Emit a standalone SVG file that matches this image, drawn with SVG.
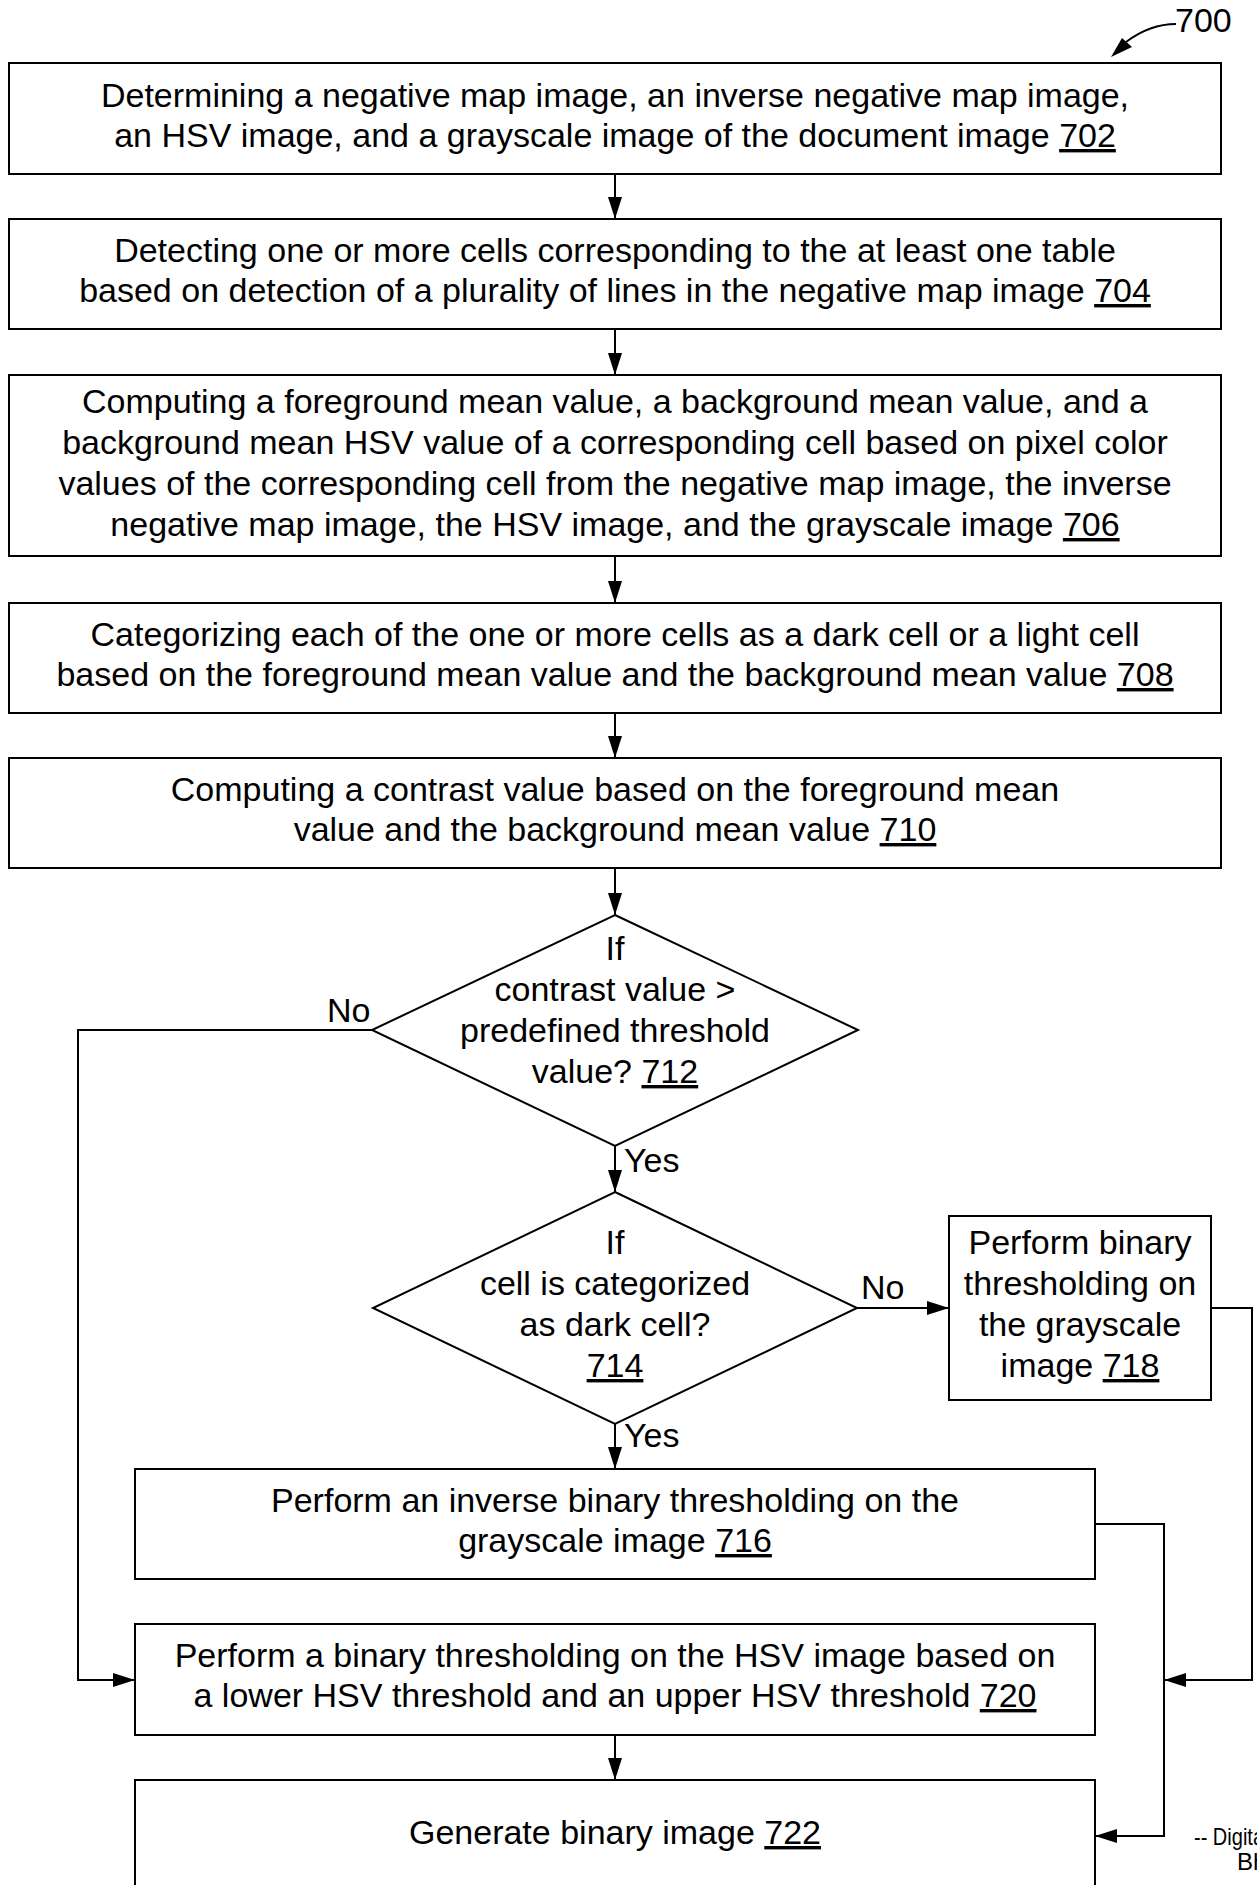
<svg xmlns="http://www.w3.org/2000/svg" width="1257" height="1885" viewBox="0 0 1257 1885">
<style>
text{font-family:"Liberation Sans",Arial,sans-serif;font-size:34px;fill:#000}
.c{text-anchor:middle}
.u{text-decoration:underline;text-underline-offset:5px}
.box{fill:#fff;stroke:#000;stroke-width:2}
.ln{fill:none;stroke:#000;stroke-width:2}
.wm{font-size:24px}
</style>
<defs>
<marker id="ah" markerUnits="userSpaceOnUse" markerWidth="24" markerHeight="14" refX="22" refY="7" orient="auto">
<path d="M0,0 L22,7 L0,14 z" fill="#000"/>
</marker>
</defs>
<g id="connectors">
<line class="ln" x1="615" y1="174" x2="615" y2="219" marker-end="url(#ah)"/>
<line class="ln" x1="615" y1="329" x2="615" y2="375" marker-end="url(#ah)"/>
<line class="ln" x1="615" y1="556" x2="615" y2="603" marker-end="url(#ah)"/>
<line class="ln" x1="615" y1="713" x2="615" y2="758" marker-end="url(#ah)"/>
<line class="ln" x1="615" y1="868" x2="615" y2="915" marker-end="url(#ah)"/>
<line class="ln" x1="615" y1="1146" x2="615" y2="1192" marker-end="url(#ah)"/>
<line class="ln" x1="615" y1="1424" x2="615" y2="1469" marker-end="url(#ah)"/>
<polyline class="ln" points="372,1030 78,1030 78,1680 135,1680" marker-end="url(#ah)"/>
<line class="ln" x1="857" y1="1308" x2="949" y2="1308" marker-end="url(#ah)"/>
<polyline class="ln" points="1211,1308 1252,1308 1252,1680 1164,1680" marker-end="url(#ah)"/>
<polyline class="ln" points="1095,1524 1164,1524 1164,1836 1095,1836" marker-end="url(#ah)"/>
<line class="ln" x1="615" y1="1735" x2="615" y2="1780" marker-end="url(#ah)"/>
<text x="327" y="1022">No</text>
<text x="861" y="1299">No</text>
<text x="624" y="1172">Yes</text>
<text x="624" y="1447">Yes</text>
</g>
<g id="ref700">
<text x="1175" y="32">700</text>
<path class="ln" d="M1176,24 C1160,24 1142,30 1126,42"/>
<polygon points="1111,57 1122,38 1132,47" fill="#000"/>
</g>
<g id="n702">
<rect class="box" x="9" y="63" width="1212" height="111"/>
<text class="c" x="615" y="107">Determining a negative map image, an inverse negative map image,</text>
<text class="c" x="615" y="147">an HSV image, and a grayscale image of the document image <tspan class="u">702</tspan></text>
</g>
<g id="n704">
<rect class="box" x="9" y="219" width="1212" height="110"/>
<text class="c" x="615" y="262">Detecting one or more cells corresponding to the at least one table</text>
<text class="c" x="615" y="302">based on detection of a plurality of lines in the negative map image <tspan class="u">704</tspan></text>
</g>
<g id="n706">
<rect class="box" x="9" y="375" width="1212" height="181"/>
<text class="c" x="615" y="413">Computing a foreground mean value, a background mean value, and a</text>
<text class="c" x="615" y="454">background mean HSV value of a corresponding cell based on pixel color</text>
<text class="c" x="615" y="495">values of the corresponding cell from the negative map image, the inverse</text>
<text class="c" x="615" y="536">negative map image, the HSV image, and the grayscale image <tspan class="u">706</tspan></text>
</g>
<g id="n708">
<rect class="box" x="9" y="603" width="1212" height="110"/>
<text class="c" x="615" y="646">Categorizing each of the one or more cells as a dark cell or a light cell</text>
<text class="c" x="615" y="686">based on the foreground mean value and the background mean value <tspan class="u">708</tspan></text>
</g>
<g id="n710">
<rect class="box" x="9" y="758" width="1212" height="110"/>
<text class="c" x="615" y="801">Computing a contrast value based on the foreground mean</text>
<text class="c" x="615" y="841">value and the background mean value <tspan class="u">710</tspan></text>
</g>
<g id="n712">
<polygon class="box" points="615,915 858,1030 615,1146 372,1030"/>
<text class="c" x="615" y="960">If</text>
<text class="c" x="615" y="1001">contrast value &gt;</text>
<text class="c" x="615" y="1042">predefined threshold</text>
<text class="c" x="615" y="1083">value? <tspan class="u">712</tspan></text>
</g>
<g id="n714">
<polygon class="box" points="615,1192 857,1308 615,1424 373,1308"/>
<text class="c" x="615" y="1254">If</text>
<text class="c" x="615" y="1295">cell is categorized</text>
<text class="c" x="615" y="1336">as dark cell?</text>
<text class="c" x="615" y="1377"><tspan class="u">714</tspan></text>
</g>
<g id="n718">
<rect class="box" x="949" y="1216" width="262" height="184"/>
<text class="c" x="1080" y="1254">Perform binary</text>
<text class="c" x="1080" y="1295">thresholding on</text>
<text class="c" x="1080" y="1336">the grayscale</text>
<text class="c" x="1080" y="1377">image <tspan class="u">718</tspan></text>
</g>
<g id="n716">
<rect class="box" x="135" y="1469" width="960" height="110"/>
<text class="c" x="615" y="1512">Perform an inverse binary thresholding on the</text>
<text class="c" x="615" y="1552">grayscale image <tspan class="u">716</tspan></text>
</g>
<g id="n720">
<rect class="box" x="135" y="1624" width="960" height="111"/>
<text class="c" x="615" y="1667">Perform a binary thresholding on the HSV image based on</text>
<text class="c" x="615" y="1707">a lower HSV threshold and an upper HSV threshold <tspan class="u">720</tspan></text>
</g>
<g id="n722">
<rect class="box" x="135" y="1780" width="960" height="108"/>
<text class="c" x="615" y="1844">Generate binary image <tspan class="u">722</tspan></text>
</g>
<g id="watermark">
<text class="wm" x="1194" y="1845" textLength="70" lengthAdjust="spacingAndGlyphs">-- Digita</text>
<text class="wm" x="1237" y="1870">Bh</text>
</g>
</svg>
